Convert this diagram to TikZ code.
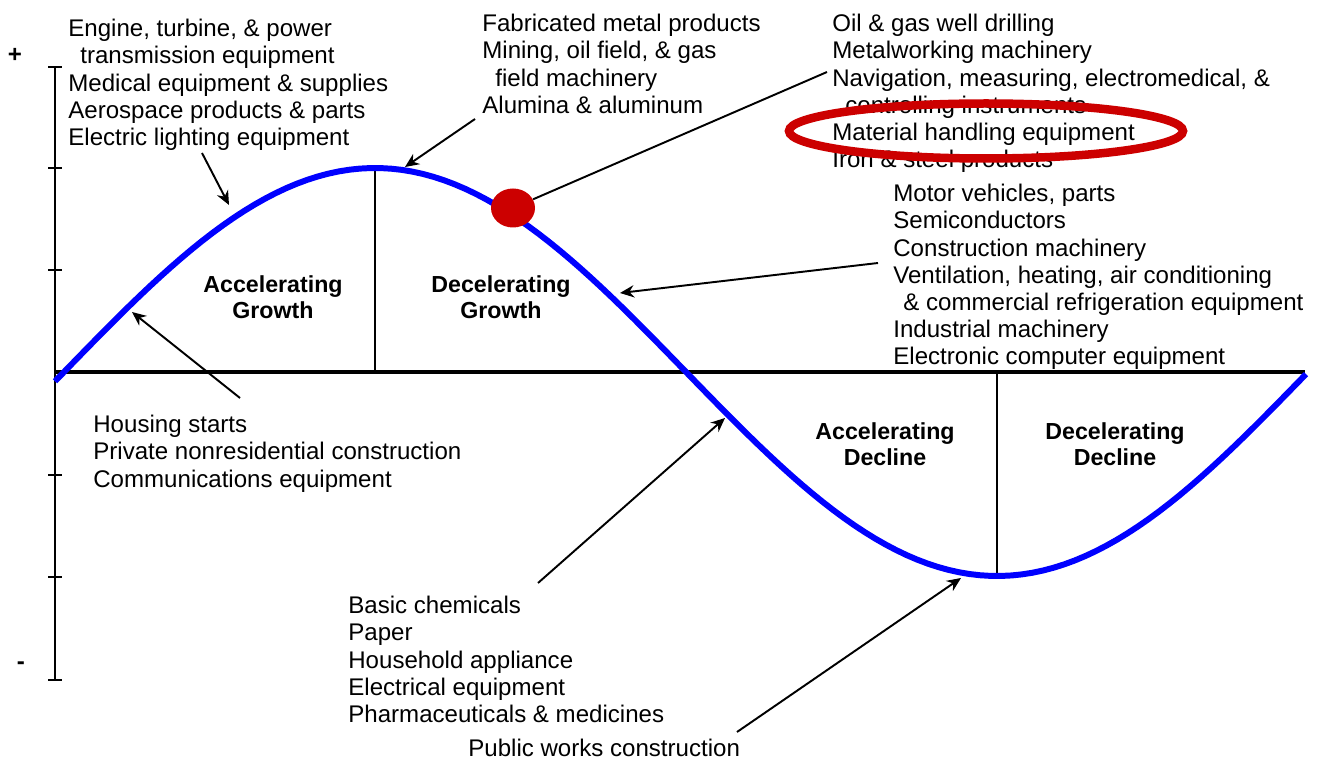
\documentclass[tikz,border=0pt]{standalone}
\usepackage{fontspec}
\setmainfont{Liberation Sans}
\usetikzlibrary{arrows.meta,shapes.geometric}

\definecolor{ringred}{RGB}{204,0,0}
\definecolor{waveblue}{RGB}{0,0,255}

\tikzset{
  lbl/.style={anchor=north west, align=left, inner sep=0pt,
    font=\fontsize{13.7}{15.45}\selectfont},
  phase/.style={align=center, inner sep=0pt,
    font=\fontsize{13.2}{15}\selectfont\bfseries},
  pointer/.style={-{Stealth[length=8pt,width=7pt]}, line width=1.1pt},
}

\begin{document}
\begin{tikzpicture}[x=0.2mm, y=-0.2mm]
    \useasboundingbox (0,0) rectangle (1321,762);

    % axes
    \draw[line width=1.4pt] (55,67) -- (55,680);
    \draw[line width=1.8pt] (55,372) -- (1305,372);
    \foreach \t in {67,168,270,475,577,680}
        \draw[line width=1.2pt] (48,\t) -- (62,\t);
    \draw[line width=1pt] (375,168) -- (375,372);
    \draw[line width=1pt] (997,372) -- (997,577);

    \node (P) at (15,55) {\fontsize{13.7}{15.45}\selectfont\bfseries +};
    \node (M) at (21,666) {\fontsize{13.7}{15.45}\selectfont\bfseries -};

    % the cycle
    \draw[waveblue, line width=3.4pt]
        plot[domain=55:1306, samples=120] (\x, {372 - 204*sin((\x-64)*0.28939)});

    \node[phase] (AG) at (273,297) {Accelerating\\Growth};
    \node[phase] (DG) at (501,297) {Decelerating\\Growth};
    \node[phase] (AD) at (885,444) {Accelerating\\Decline};
    \node[phase] (DD) at (1115,444) {Decelerating\\Decline};

    % industry lists
    \node[lbl] (engine) at (68,19) {Engine, turbine, \& power\\
        \hspace*{0.24cm}transmission equipment\\
        Medical equipment \& supplies\\
        Aerospace products \& parts\\
        Electric lighting equipment};
    \node[lbl] (metal) at (482,14) {Fabricated metal products\\
        Mining, oil field, \& gas\\
        \hspace*{0.26cm}field machinery\\
        Alumina \& aluminum};
    \node[lbl] (oil) at (832,14) {Oil \& gas well drilling\\
        Metalworking machinery\\
        Navigation, measuring, electromedical, \&\\
        \hspace*{0.26cm}controlling instruments\\
        Material handling equipment\\
        Iron \& steel products};
    \node[lbl] (motor) at (893,184) {Motor vehicles, parts\\
        Semiconductors\\
        Construction machinery\\
        Ventilation, heating, air conditioning\\
        \hspace*{0.2cm}\& commercial refrigeration equipment\\
        Industrial machinery\\
        Electronic computer equipment};
    \node[lbl] (housing) at (93,415) {Housing starts\\
        Private nonresidential construction\\
        Communications equipment};
    \node[lbl] (chem) at (348,596) {Basic chemicals\\
        Paper\\
        Household appliance\\
        Electrical equipment\\
        Pharmaceuticals \& medicines};
    \node[lbl] (works) at (468,739) {Public works construction};

    % markers
    \node[ellipse, fill=ringred, inner sep=0pt, minimum width=0.88cm,
        minimum height=0.78cm] (dot) at (513,208) {};
    \node[ellipse, draw=ringred, line width=0.17cm, inner sep=0pt,
        minimum width=7.88cm, minimum height=1.1cm] (ring) at (986,131) {};

    \coordinate (e1) at (202,153);  \coordinate (e2) at (229,205);
    \coordinate (m1) at (475,119);  \coordinate (m2) at (405,167);
    \coordinate (o1) at (827,72);
    \coordinate (v1) at (878,263);  \coordinate (v2) at (620,293);
    \coordinate (h1) at (240,398);  \coordinate (h2) at (132,312);
    \coordinate (c1) at (538,583);  \coordinate (c2) at (725,418);
    \coordinate (w1) at (737,732);  \coordinate (w2) at (961,578);

    \draw[pointer] (e1) -- (e2);
    \draw[pointer] (m1) -- (m2);
    \draw[line width=1.1pt] (dot) -- (o1);
    \draw[pointer] (v1) -- (v2);
    \draw[pointer] (h1) -- (h2);
    \draw[pointer] (c1) -- (c2);
    \draw[pointer] (w1) -- (w2);
\end{tikzpicture}
\end{document}
